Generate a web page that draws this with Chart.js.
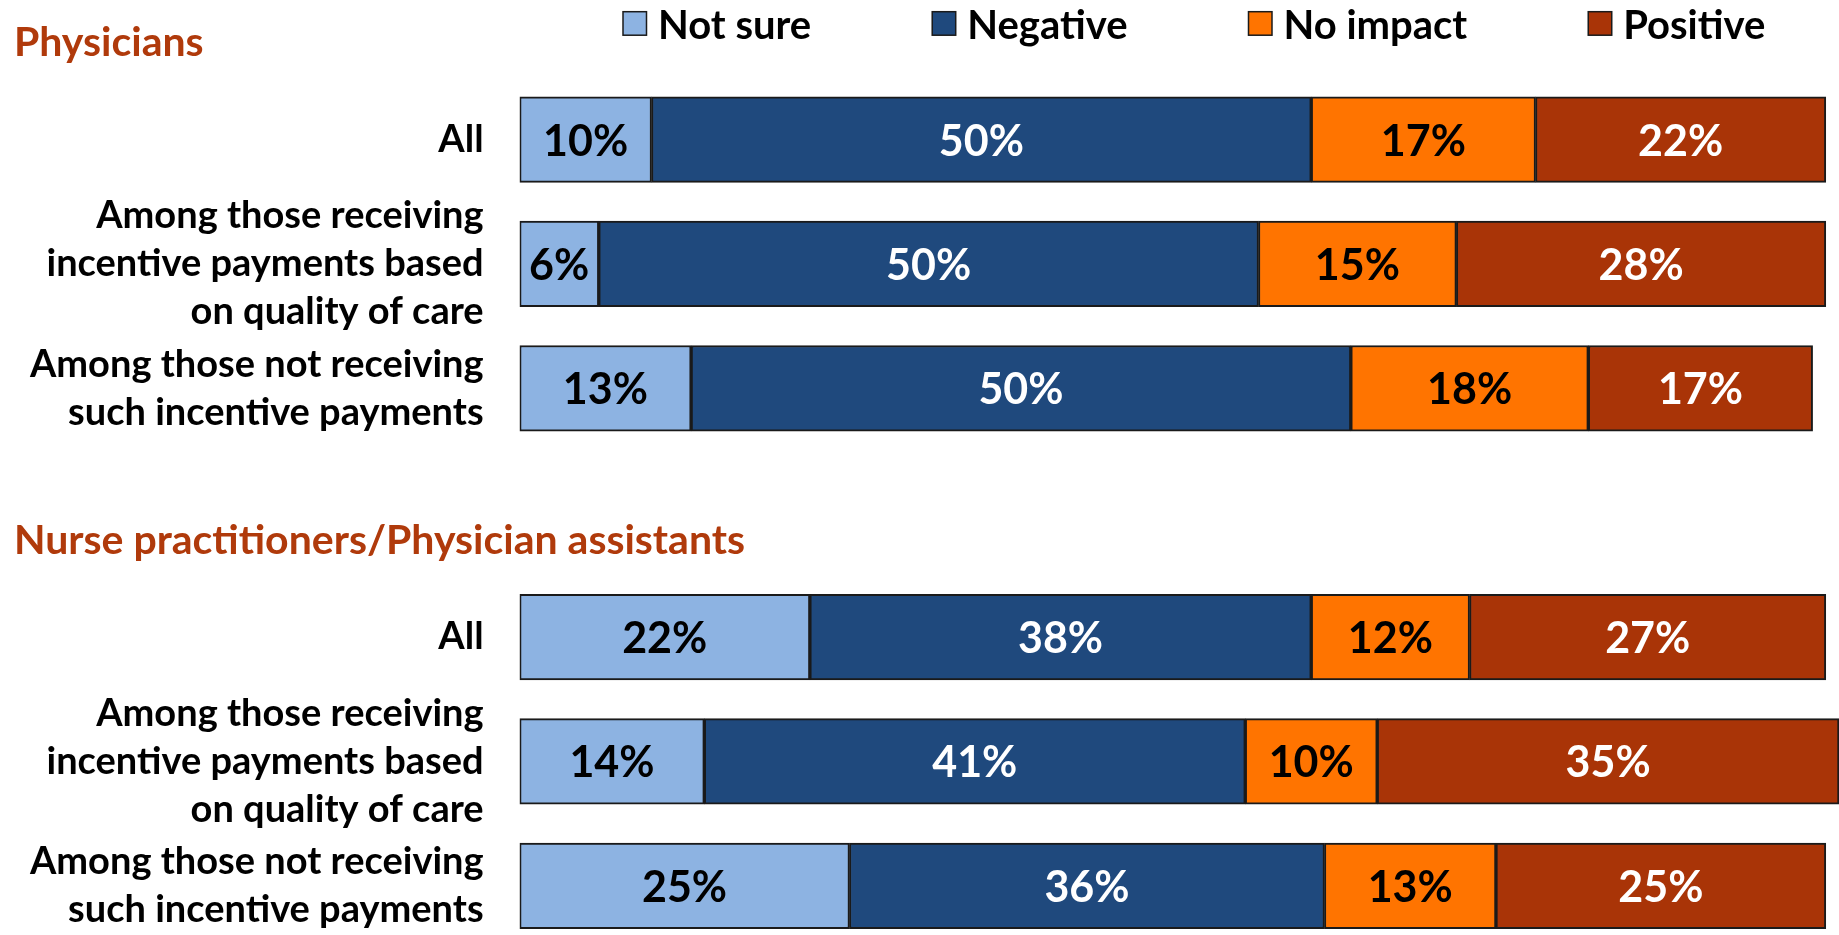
<!DOCTYPE html>
<html><head><meta charset="utf-8">
<script src="https://cdn.jsdelivr.net/npm/chart.js@4.4.0/dist/chart.umd.min.js"></script>
<style>
html,body{margin:0;padding:0;background:#fff;overflow:hidden;}
#wrap{width:1839px;height:935px;overflow:hidden;position:relative;background:#fff;}
canvas{display:block;}
</style></head>
<body><div id="wrap"><canvas id="c" width="1839" height="948"></canvas></div>
<script>
// ---- data ----
const categories = [
  ["All"],
  ["Among those receiving", "incentive payments based", "on quality of care"],
  ["Among those not receiving", "such incentive payments"],
  "",
  ["All"],
  ["Among those receiving", "incentive payments based", "on quality of care"],
  ["Among those not receiving", "such incentive payments"]
];
const groupTitles = ["Physicians", "Nurse practitioners/Physician assistants"];
const groupStartIndex = [0, 4];
const seriesNames = ["Not sure", "Negative", "No impact", "Positive"];
const notSure  = [10, 6, 13, null, 22, 14, 25];
const negative = [50, 50, 50, null, 38, 41, 36];
const noImpact = [17, 15, 18, null, 12, 10, 13];
const positive = [22, 28, 17, null, 27, 35, 25];

// ---- styles ----
const colors = ["#8DB3E2", "#1F497D", "#FF7400", "#A93407"];
const labelColors = ["#000000", "#FFFFFF", "#000000", "#FFFFFF"];
const FONT = "Lato";

const seriesValues = [notSure, negative, noImpact, positive];

const valueLabels = {
  id: "valueLabels",
  afterDatasetsDraw(chart) {
    const ctx = chart.ctx;
    ctx.save();
    ctx.font = "bold 43px " + FONT;
    ctx.textAlign = "center";
    ctx.textBaseline = "alphabetic";
    chart.data.datasets.forEach((ds, i) => {
      const meta = chart.getDatasetMeta(i);
      meta.data.forEach((el, j) => {
        const v = ds.data[j];
        if (v === null || v === undefined) return;
        const p = el.getProps(["x", "y", "base"], true);
        ctx.fillStyle = labelColors[i];
        ctx.fillText(v + "%", (p.x + p.base) / 2, p.y + 16);
      });
    });
    ctx.restore();
  }
};

const headers = {
  id: "headers",
  afterDraw(chart) {
    const ctx = chart.ctx;
    const ys = chart.scales.y;
    ctx.save();
    // group titles
    ctx.font = "bold 41px " + FONT;
    ctx.fillStyle = "#B03A0B";
    ctx.textAlign = "left";
    ctx.textBaseline = "alphabetic";
    groupTitles.forEach((t, k) => {
      ctx.fillText(t, 14, ys.getPixelForValue(groupStartIndex[k]) - 83.5);
    });
    // legend
    ctx.font = "bold 40px " + FONT;
    let x = 623;
    const box = 23.5;
    seriesNames.forEach((name, i) => {
      ctx.fillStyle = colors[i];
      ctx.fillRect(x, 11.7, box, box);
      ctx.strokeStyle = "#1a1a1a";
      ctx.lineWidth = 1.5;
      ctx.strokeRect(x, 11.7, box, box);
      ctx.fillStyle = "#000";
      ctx.fillText(name, x + box + 11.5, 38.7);
      x += box + 11.5 + ctx.measureText(name).width + 121;
    });
    ctx.restore();
  }
};

function build() {
  new Chart(document.getElementById("c"), {
    type: "bar",
    data: {
      labels: categories,
      datasets: seriesNames.map((n, i) => ({
        label: n,
        data: seriesValues[i],
        backgroundColor: colors[i],
        borderColor: "#1a1a1a",
        borderWidth: 2,
        borderSkipped: false,
        barThickness: 85.6
      }))
    },
    options: {
      indexAxis: "y",
      responsive: false,
      animation: false,
      devicePixelRatio: 1,
      layout: { padding: { top: 77.4, left: 0, right: 0, bottom: 0 } },
      plugins: { legend: { display: false }, tooltip: { enabled: false } },
      events: [],
      scales: {
        x: { stacked: true, min: 0, max: 100, display: false },
        y: {
          stacked: true,
          grid: { display: false, drawTicks: false },
          border: { display: false },
          ticks: {
            autoSkip: false,
            padding: 36,
            color: "#000",
            font: { family: FONT, weight: "bold", size: 38, lineHeight: 1.265 }
          },
          afterFit(scale) {
            scale.width = 519.6;
            scale.paddingTop = 0;
            scale.paddingBottom = 0;
          }
        }
      }
    },
    plugins: [valueLabels, headers]
  });
}
if (document.fonts && document.fonts.load) {
  Promise.all([document.fonts.load("bold 40px Lato"), document.fonts.load("40px Lato")]).then(build, build);
} else { build(); }
</script>
</body></html>
